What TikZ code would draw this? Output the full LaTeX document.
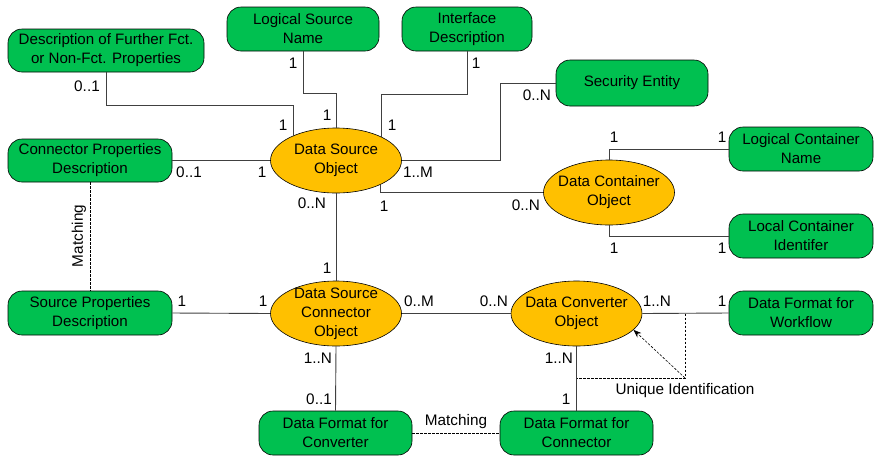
\documentclass[tikz,border=0pt]{standalone}
\usepackage{fontspec}
\setmainfont{Liberation Sans}
\usetikzlibrary{shapes.geometric,arrows.meta,calc}
\definecolor{boxgreen}{RGB}{0,192,80}
\definecolor{objorange}{RGB}{255,192,0}
\definecolor{linegray}{RGB}{64,64,64}

\begin{document}
\begin{tikzpicture}[x=1pt,y=-1pt,
  entity/.style={draw=black, fill=boxgreen, rounded corners=14pt, align=center,
    inner sep=0pt, line width=0.6pt, minimum height=44pt,
    font=\fontsize{15.1}{19}\selectfont},
  object/.style={draw=black, fill=objorange, ellipse, inner sep=0pt,
    minimum width=131pt, minimum height=65pt, line width=0.6pt,
    label={[objtext]center:#1}},
  objtext/.style={align=center, inner sep=0pt, font=\fontsize{15.1}{19}\selectfont},
  link/.style={draw=linegray, line width=0.9pt},
  matchline/.style={draw=black, line width=0.6pt, dash pattern=on 2.5pt off 1.5pt},
  card/.style={font=\fontsize{15.3}{17}\selectfont, inner sep=0pt},
]
\useasboundingbox (0,0) rectangle (874,459);

% entities
\node[entity, minimum width=196pt, minimum height=43pt] (dfp) at (106,50.5)
  {Description of Further Fct.\\or Non-Fct. Properties};
\node[entity, minimum width=152pt] (lsn) at (303,29) {Logical Source\\Name};
\node[entity, minimum width=130pt] (ifd) at (467,29) {Interface\\Description};
\node[entity, minimum width=152pt, minimum height=46pt] (sec) at (632,83) {Security Entity};
\node[entity, minimum width=164pt, minimum height=43pt] (cpd) at (90,160.5)
  {Connector Properties\\Description};
\node[entity, minimum width=144pt] (lcn) at (801,149) {Logical Container\\Name};
\node[entity, minimum width=144pt] (lci) at (801,236) {Local Container\\Identifer};
\node[entity, minimum width=164pt] (spd) at (90,313) {Source Properties\\Description};
\node[entity, minimum width=144pt] (dfw) at (801,313) {Data Format for\\Workflow};
\node[entity, minimum width=153pt] (dfcv) at (335.5,433) {Data Format for\\Converter};
\node[entity, minimum width=153pt] (dfcn) at (576.5,433) {Data Format for\\Connector};

% objects
\node[object={Data Source\\Object}] (dso) at (336,160.5) {};
\node[object={Data Container\\Object}] (dco) at (609,192.5) {};
\node[object={Data Source\\Connector\\Object}] (dsco) at (336,313.5) {};
\node[object={Data Converter\\Object}] (dcv) at (576.5,313.5) {};

% relations
\draw[link] (dfp.south) |- ($(dso.150)+(0,-30)$) -- (dso.150);
\draw[link] (lsn.south) |- ($(dso.north)+(0,-34)$) -- (dso.north);
\draw[link] (ifd.south) |- ($(dso.28)+(0,-42)$) -- (dso.28);
\draw[link] (sec.west) -| ($(dso.east)+(99,0)$) -- (dso.east);
\draw[link] (cpd.east) -- (dso.west);
\draw[link] (dso.-29) |- (dco.west);
\draw[link] (dco.north) |- (lcn.west);
\draw[link] (dco.south) |- (lci.west);
\draw[link] (dso.south) -- (dsco.north);
\draw[link] (spd.east) -- (dsco.west);
\draw[link] (dsco.east) -- (dcv.west);
\draw[link] (dcv.east) -- (dfw.west);
\draw[link] (dsco.south) -- (dfcv.north);
\draw[link] (dcv.south) -- (dfcn.north);

% matching relations
\draw[matchline] (cpd.south) -- (spd.north);
\node[card, rotate=90] (m1) at (79,236) {Matching};
\draw[matchline] (dfcv.east) -- (dfcn.west);
\node[card] (m2) at (456,422) {Matching};

% unique identification
\coordinate (uid) at (685,378);
\draw[matchline] (uid |- dcv.east) -- (uid) -- (uid -| dcv.south);
\draw[matchline, -{Stealth[length=8pt,width=6pt]}] (uid) -- (dcv.-16);
\node[card] (uidl) at (685,391) {Unique Identification};

% cardinalities
\node[card] (c1) at (87,86) {0..1};
\node[card] (c2) at (283,125) {1};
\node[card] (c3) at (293,63) {1};
\node[card] (c4) at (327,115) {1};
\node[card] (c5) at (476,63) {1};
\node[card] (c6) at (392,125) {1};
\node[card] (c7) at (537,95) {0..N};
\node[card] (c8) at (418,172) {1..M};
\node[card] (c9) at (189,172) {0..1};
\node[card] (c10) at (262,172) {1};
\node[card] (c11) at (384,206) {1};
\node[card] (c12) at (526,205) {0..N};
\node[card] (c13) at (312,203) {0..N};
\node[card] (c14) at (614,137) {1};
\node[card] (c15) at (722,137) {1};
\node[card] (c16) at (614,248) {1};
\node[card] (c17) at (722,248) {1};
\node[card] (c18) at (327,268) {1};
\node[card] (c19) at (182,301) {1};
\node[card] (c20) at (263,301) {1};
\node[card] (c21) at (419,301) {0..M};
\node[card] (c22) at (494,301) {0..N};
\node[card] (c23) at (657,301) {1..N};
\node[card] (c24) at (722,301) {1};
\node[card] (c25) at (318,358) {1..N};
\node[card] (c26) at (319,399) {0..1};
\node[card] (c27) at (559,358) {1..N};
\node[card] (c28) at (566,399) {1};
\end{tikzpicture}
\end{document}
